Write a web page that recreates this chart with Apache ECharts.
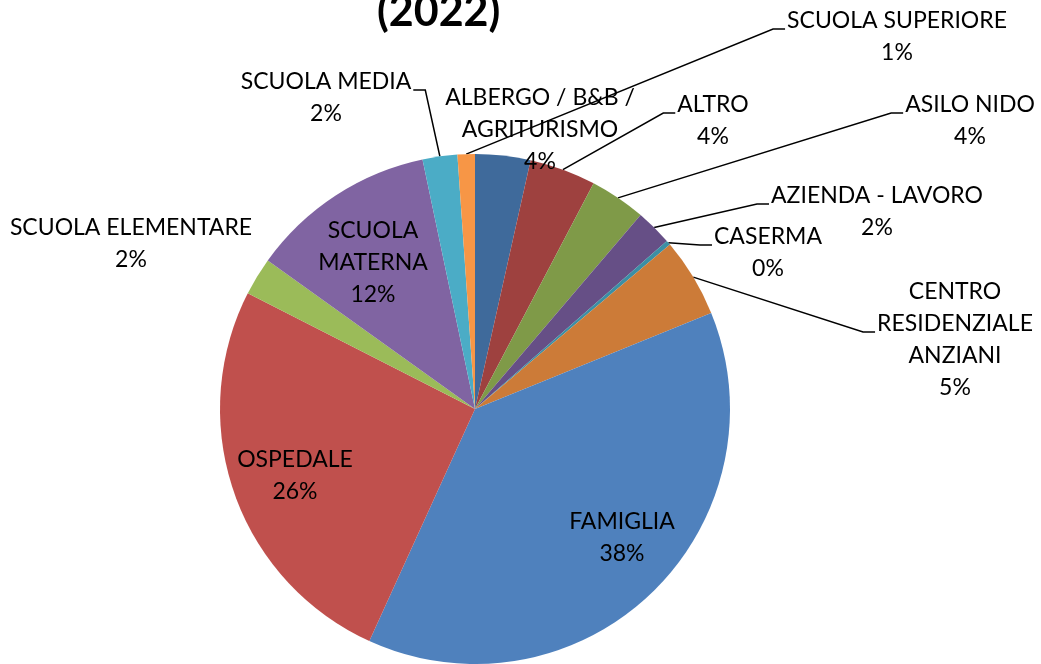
<!DOCTYPE html>
<html>
<head>
<meta charset="utf-8">
<script src="https://cdn.jsdelivr.net/npm/echarts@6/dist/echarts.min.js"></script>
<style>
  html, body { margin: 0; padding: 0; background: #fff; }
  #chart { width: 1041px; height: 664px; }
</style>
</head>
<body>
<div id="chart"></div>
<script>
// categories, clockwise from 12 o'clock
var categories = [
  'ALBERGO / B&B / AGRITURISMO', 'ALTRO', 'ASILO NIDO', 'AZIENDA - LAVORO', 'CASERMA',
  'CENTRO RESIDENZIALE ANZIANI', 'FAMIGLIA', 'OSPEDALE', 'SCUOLA ELEMENTARE',
  'SCUOLA MATERNA', 'SCUOLA MEDIA', 'SCUOLA SUPERIORE'
];
// share of each category (%)
var shares = [3.5, 4.2, 3.55, 2.3, 0.3, 5.0, 37.95, 25.7, 2.4, 11.8, 2.2, 1.1];
var titleText = '(2022)';

// how the label text is wrapped
var wrapped = {
  'ALBERGO / B&B / AGRITURISMO': 'ALBERGO / B&B /\nAGRITURISMO',
  'CENTRO RESIDENZIALE ANZIANI': 'CENTRO\nRESIDENZIALE\nANZIANI',
  'SCUOLA MATERNA': 'SCUOLA\nMATERNA'
};

var colors = ['#3F6A9B', '#9E413F', '#7F9A48', '#664F86', '#3B8FA5', '#CC7B38',
              '#4F81BD', '#C0504D', '#9BBB59', '#8064A2', '#4BACC6', '#F79646'];

// label block centres (px) and which labels get a leader line
var labelSpots = [
  [540, 130], [713, 121], [970, 121], [877, 212], [768, 253], [955, 340],
  [622, 538], [295, 476], [131, 244], [373, 263], [326, 98], [897, 37]
];
var hasLeader = [false, true, true, true, true, true, false, false, false, false, true, true];

var chart = echarts.init(document.getElementById('chart'));

var pieData = categories.map(function (name, i) {
  return {
    name: name,
    value: shares[i],
    itemStyle: { color: colors[i] },
    labelLine: { show: hasLeader[i] }
  };
});

chart.setOption({
  backgroundColor: '#fff',
  animation: false,
  title: {
    text: titleText,
    left: 377,
    top: -9,
    padding: 0,
    textStyle: { fontFamily: 'Lato', fontWeight: 'bold', fontSize: 43, color: '#000' }
  },
  series: [{
    type: 'pie',
    center: [475, 409],
    radius: 255,
    startAngle: 90,
    clockwise: true,
    avoidLabelOverlap: false,
    data: pieData,
    itemStyle: { borderWidth: 0 },
    label: {
      show: true,
      position: 'outside',
      fontFamily: 'Lato',
      fontSize: 23,
      lineHeight: 32,
      color: '#000',
      align: 'center',
      formatter: function (p) {
        var txt = wrapped[p.name] || p.name;
        return txt + '\n' + Math.round(p.percent) + '%';
      }
    },
    labelLine: {
      length: 10,
      length2: 10,
      lineStyle: { color: '#000', width: 1.5 }
    },
    labelLayout: function (params) {
      var i = params.dataIndex;
      var spot = labelSpots[i];
      var w = params.labelRect.width;
      var res = { x: spot[0], y: spot[1], align: 'center', verticalAlign: 'middle' };
      if (hasLeader[i] && params.labelLinePoints) {
        var p0 = params.labelLinePoints[0];
        var toRight = spot[0] > p0[0];
        var ly = spot[1] - 8;
        var ex = toRight ? spot[0] - w / 2 - 2 : spot[0] + w / 2 + 2;
        var bx = toRight ? ex - 12 : ex + 12;
        res.labelLinePoints = [p0, [bx, ly], [ex, ly]];
      }
      return res;
    }
  }]
});
</script>
</body>
</html>
